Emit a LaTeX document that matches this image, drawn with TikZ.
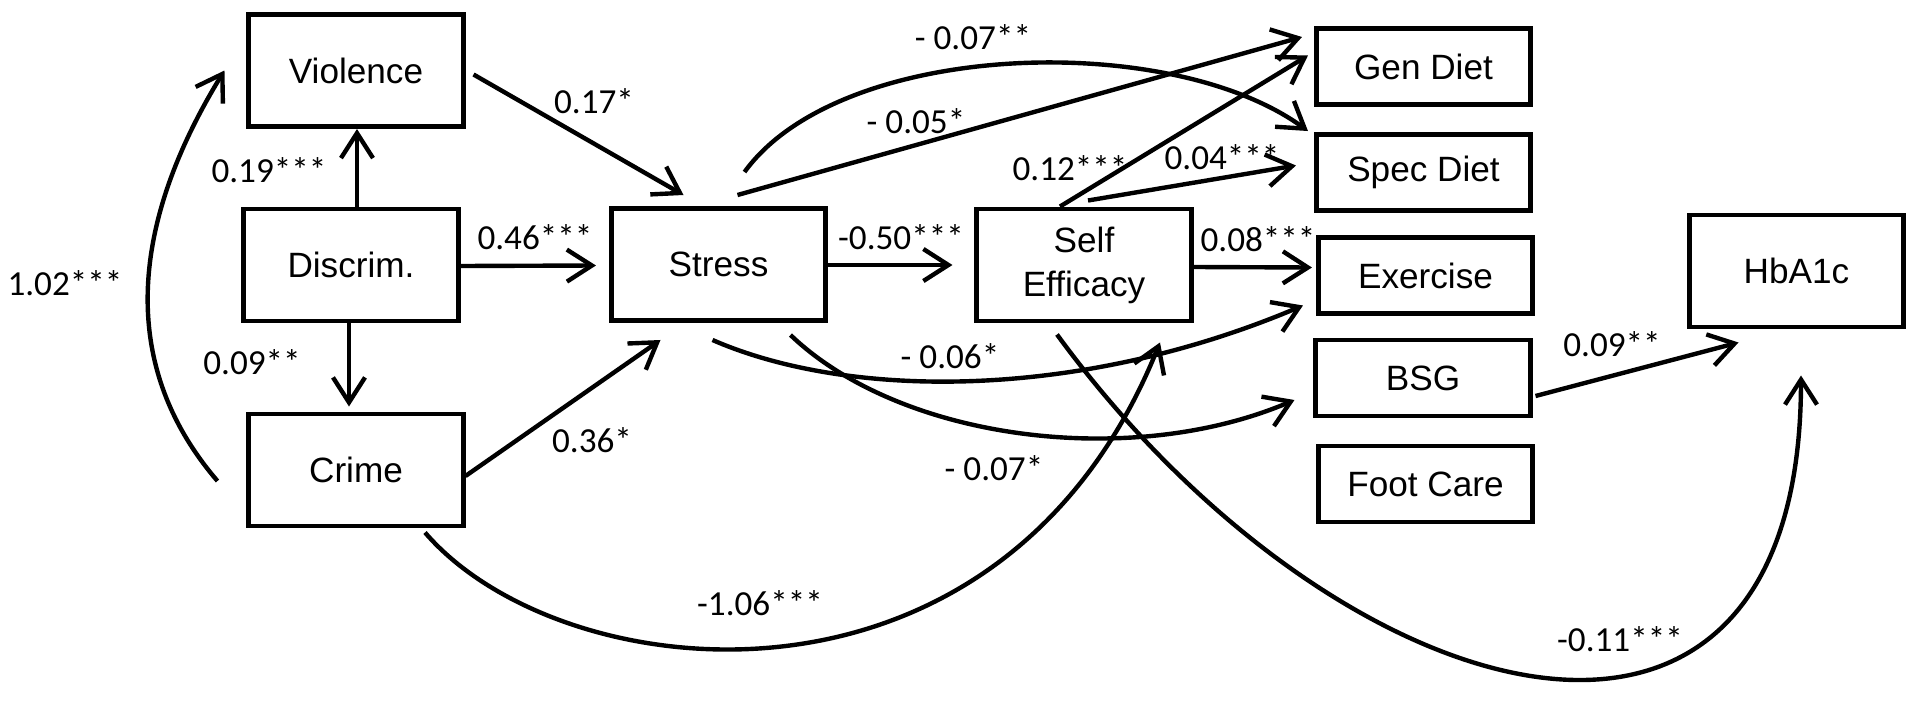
\documentclass[tikz,border=0pt]{standalone}
\usepackage{fontspec}
\setmainfont{Liberation Sans}
\newfontfamily\lblfont{Carlito}
\usetikzlibrary{arrows.meta}

\tikzset{
    box/.style={draw=black, line width=1.4pt, minimum width=2.14cm, minimum height=1.12cm,
        inner sep=0pt, align=center, font=\fontsize{10}{12.5}\selectfont},
    smallbox/.style={box, minimum height=0.76cm},
    arr/.style={black, line width=1.25pt, -{Straight Barb[length=2.5mm, width=3.2mm]}},
    lbl/.style={font=\lblfont\fontsize{10}{12}\selectfont, inner sep=0pt},
}

\begin{document}
\begin{tikzpicture}[x=0.01cm, y=-0.01cm]
            \useasboundingbox (0,0) rectangle (1920,706);
            % \draw[black, thick] (0,0) rectangle (1920,706);

            \node[box] (violence) at (356,70.5) {Violence};
            \node[box] (discrim) at (351,265) {Discrim.};
            \node[box] (crime) at (356,470) {Crime};
            \node[box] (stress) at (718.5,264.5) {Stress};
            \node[box] (selfeff) at (1084,265) {Self\\Efficacy};
            \node[smallbox] (gendiet) at (1423.5,66.5) {Gen Diet};
            \node[smallbox] (specdiet) at (1423.5,172.5) {Spec Diet};
            \node[smallbox] (exercise) at (1425.5,275.5) {Exercise};
            \node[smallbox] (bsg) at (1423,378) {BSG};
            \node[smallbox] (footcare) at (1425.5,484) {Foot Care};
            \node[box] (hba1c) at (1796.5,271) {HbA1c};

            \draw[arr] ([shift={(8,4)}]violence.east) -- ([shift={(-35,-11)}]stress.north);
            \draw[arr] ([shift={(6,0)}]discrim.north) -- ([shift={(1,0)}]violence.south);
            \draw[arr] ([shift={(-2,0)}]discrim.south) -- ([shift={(-7,-5)}]crime.north);
            \draw[arr] ([shift={(0,1)}]discrim.east) -- ([shift={(-13,1)}]stress.west);
            \draw[arr] ([shift={(0,6)}]crime.east) -- ([shift={(-58,17)}]stress.south);
            \draw[arr] ([shift={(-29,11)}]crime.west) .. controls (105,350) and (145,200) .. ([shift={(-22,0)}]violence.west);
            \draw[arr] ([shift={(69,4)}]crime.south) .. controls (560,690) and (1000,740) .. ([shift={(76,19)}]selfeff.south);

            \draw[arr] ([shift={(0,0.5)}]stress.east) -- ([shift={(-22,0)}]selfeff.west);
            \draw[arr] ([shift={(19,-11)}]stress.north) -- ([shift={(-12,-29.5)}]gendiet.west);
            \draw[arr] ([shift={(26,-34)}]stress.north) .. controls (840,40) and (1170,30) .. ([shift={(-6,-1)}]specdiet.north west);
            \draw[arr] ([shift={(-6,17)}]stress.south) .. controls (850,400) and (1080,400) .. ([shift={(-13,30)}]exercise.west);
            \draw[arr] ([shift={(72,12)}]stress.south) .. controls (900,440) and (1130,470) .. ([shift={(-19,22)}]bsg.west);

            \draw[arr] ([shift={(-24,0)}]selfeff.north) -- ([shift={(-6,-11)}]gendiet.west);
            \draw[arr] ([shift={(4,-6)}]selfeff.north) -- ([shift={(-18,-7)}]specdiet.west);
            \draw[arr] ([shift={(0,2)}]selfeff.east) -- ([shift={(-4,-8)}]exercise.west);
            \draw[arr] ([shift={(-27,11)}]selfeff.south) .. controls (1335,715) and (1801,850) .. ([shift={(4.5,46)}]hba1c.south);
            \draw[arr] ([shift={(3,18)}]bsg.east) -- ([shift={(-58,13)}]hba1c.south);

            \node[lbl] (l017) at (594,101) {0.17*};
            \node[lbl] (l019) at (269,170) {0.19***};
            \node[lbl] (l009) at (252,362) {0.09**};
            \node[lbl] (l046) at (535,237) {0.46***};
            \node[lbl] (l102) at (65,283) {1.02***};
            \node[lbl] (l036) at (592,440) {0.36*};
            \node[lbl] (l050) at (901,237) {-0.50***};
            \node[lbl] (l007a) at (973,37) {- 0.07**};
            \node[lbl] (l005) at (916,121) {- 0.05*};
            \node[lbl] (l012) at (1070,168) {0.12***};
            \node[lbl] (l004) at (1222,157) {0.04***};
            \node[lbl] (l008) at (1258,239) {0.08***};
            \node[lbl] (l006) at (950,356) {- 0.06*};
            \node[lbl] (l007b) at (994,468) {- 0.07*};
            \node[lbl] (l106) at (760,603) {-1.06***};
            \node[lbl] (l009b) at (1612,344) {0.09**};
            \node[lbl] (l011) at (1620,639) {-0.11***};
\end{tikzpicture}
\end{document}
